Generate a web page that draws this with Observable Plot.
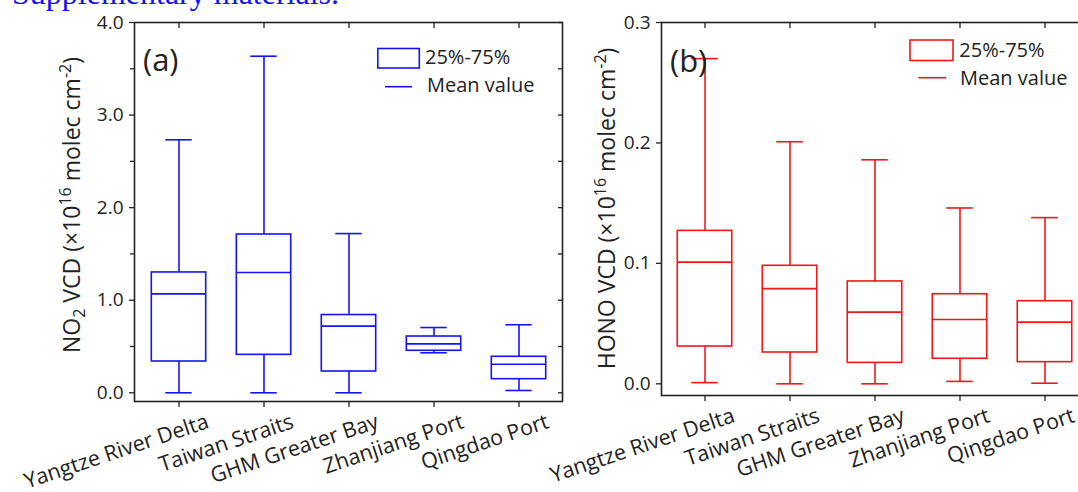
<!DOCTYPE html>
<html><head><meta charset="utf-8">
<script src="https://cdn.jsdelivr.net/npm/d3@7"></script>
<script src="https://cdn.jsdelivr.net/npm/@observablehq/plot@0.6"></script>
<style>
html,body{margin:0;padding:0;background:#fff;}
#wrap{position:relative;width:1078px;height:492px;overflow:hidden;background:#fff;font-family:"Open Sans",sans-serif;}
#wrap > svg{position:absolute;top:0;}
</style></head><body><div id="wrap"></div>
<script>
// ---- data ----
const regions = ["Yangtze River Delta", "Taiwan Straits", "GHM Greater Bay", "Zhanjiang Port", "Qingdao Port"];

// (a) NO2 VCD (x10^16 molec cm^-2)
const no2Min = [0.0, 0.0, 0.0, 0.432, 0.025];
const no2Q1  = [0.338, 0.41, 0.23, 0.454, 0.147];
const no2Mid = [1.069, 1.30, 0.72, 0.529, 0.309];
const no2Q3  = [1.30, 1.71, 0.84, 0.608, 0.389];
const no2Max = [2.733, 3.636, 1.72, 0.705, 0.735];
const no2Major = [0, 1, 2, 3, 4];
const no2Minor = [0.5, 1.5, 2.5, 3.5];

// (b) HONO VCD (x10^16 molec cm^-2)
const honoMin = [0.001, 0.0, 0.0, 0.002, 0.0005];
const honoQ1  = [0.031, 0.026, 0.0174, 0.0208, 0.018];
const honoMid = [0.101, 0.079, 0.0595, 0.0534, 0.0512];
const honoQ3  = [0.127, 0.098, 0.085, 0.0744, 0.0686];
const honoMax = [0.270, 0.201, 0.186, 0.146, 0.138];
const honoMajor = [0, 0.1, 0.2, 0.3];
const honoMinor = [];

const ink = "#222";

function panel(o) {
  const rows = regions.map((c, i) => ({c, mn: o.mn[i], q1: o.q1[i], md: o.md[i], q3: o.q3[i], mx: o.mx[i]}));
  const bw = (o.width - o.mL - o.mR) / regions.length;
  const boxInset = (bw - 55) / 2, capInset = (bw - 27) / 2;
  const sw = 1.6;
  return Plot.plot({
    width: o.width, height: 492,
    marginLeft: o.mL, marginRight: o.mR, marginTop: o.mT, marginBottom: o.mB,
    x: {type: "band", domain: regions, padding: 0},
    y: {domain: o.domain},
    style: {background: "transparent", overflow: "visible", fontFamily: "'Open Sans', sans-serif", color: ink},
    marks: [
      Plot.axisY({anchor: "left", ticks: o.major, tickFormat: d => d.toFixed(1), tickSize: 5, tickPadding: 6, fontSize: 19, label: null, strokeWidth: 1.3}),
      o.minor.length ? Plot.axisY({anchor: "left", ticks: o.minor, tickSize: 4, tickFormat: () => "", label: null, strokeWidth: 1.3}) : null,
      Plot.axisY({anchor: "right", ticks: o.major.concat(o.minor), tickSize: -5, tickFormat: () => "", label: null, strokeWidth: 1.3}),
      Plot.axisX({anchor: "top", tickSize: -5, tickFormat: () => "", label: null, strokeWidth: 1.3}),
      Plot.axisX({anchor: "bottom", tickSize: 6, tickFormat: () => "", label: null, strokeWidth: 1.3}),
      Plot.axisX({anchor: "bottom", tickSize: 0, tickPadding: 0, tickRotate: -18.5, textAnchor: "end", lineAnchor: "bottom", fontSize: 21.5, dx: 31, dy: 26, label: null}),
      Plot.frame({stroke: ink, strokeWidth: 1.6}),
      Plot.ruleX(rows, {x: "c", y1: "mn", y2: "q1", stroke: o.color, strokeWidth: sw}),
      Plot.ruleX(rows, {x: "c", y1: "q3", y2: "mx", stroke: o.color, strokeWidth: sw}),
      Plot.tickY(rows, {x: "c", y: "mn", stroke: o.color, strokeWidth: sw, insetLeft: capInset, insetRight: capInset}),
      Plot.tickY(rows, {x: "c", y: "mx", stroke: o.color, strokeWidth: sw, insetLeft: capInset, insetRight: capInset}),
      Plot.barY(rows, {x: "c", y1: "q1", y2: "q3", fill: "none", stroke: o.color, strokeWidth: sw, insetLeft: boxInset, insetRight: boxInset}),
      Plot.tickY(rows, {x: "c", y: "md", stroke: o.color, strokeWidth: sw, insetLeft: boxInset, insetRight: boxInset})
    ]
  });
}

const wrap = document.getElementById("wrap");

const a = panel({mn: no2Min, q1: no2Q1, md: no2Mid, q3: no2Q3, mx: no2Max, color: "#1414f5",
  domain: [-0.094, 4.0], major: no2Major, minor: no2Minor,
  width: 570, mL: 134, mR: 8, mT: 22, mB: 91});
a.style.left = "0px";
wrap.appendChild(a);

const b = panel({mn: honoMin, q1: honoQ1, md: honoMid, q3: honoQ3, mx: honoMax, color: "#f01818",
  domain: [-0.0097, 0.3], major: honoMajor, minor: honoMinor,
  width: 570, mL: 131, mR: 11.5, mT: 22, mB: 97});
b.style.left = "530px";
wrap.appendChild(b);

// ---- annotations (legends, panel letters, axis titles, header) ----
const ns = "http://www.w3.org/2000/svg";
const ov = document.createElementNS(ns, "svg");
ov.setAttribute("width", 1078); ov.setAttribute("height", 492);
ov.style.left = "0px"; ov.style.pointerEvents = "none";
ov.innerHTML = `
<text x="12" y="3.5" font-family="'Liberation Serif','Times New Roman',serif" font-size="32" fill="#1010ff">Supplementary materials.</text>
<g font-family="'Open Sans',sans-serif" fill="${ink}">
  <text x="143" y="71" font-size="31">(a)</text>
  <text x="670" y="72" font-size="31">(b)</text>
  <rect x="377.8" y="48.5" width="41.5" height="19.5" fill="none" stroke="#1414f5" stroke-width="1.6"/>
  <line x1="385" x2="412" y1="86.7" y2="86.7" stroke="#1414f5" stroke-width="1.6"/>
  <text x="425" y="64.3" font-size="20">25%-75%</text>
  <text x="427" y="92.3" font-size="20">Mean value</text>
  <rect x="910" y="40" width="43" height="20.5" fill="none" stroke="#f01818" stroke-width="1.6"/>
  <line x1="918.3" x2="946" y1="77.7" y2="77.7" stroke="#f01818" stroke-width="1.6"/>
  <text x="959.3" y="57.3" font-size="20">25%-75%</text>
  <text x="960" y="85" font-size="20">Mean value</text>
  <text transform="translate(80,205) rotate(-90)" text-anchor="middle" font-size="23">NO<tspan dy="5" font-size="16">2</tspan><tspan dy="-5"> VCD (×10</tspan><tspan dy="-9" font-size="16">16</tspan><tspan dy="9"> molec cm</tspan><tspan dy="-9" font-size="16">-2</tspan><tspan dy="9">)</tspan></text>
  <text transform="translate(615,208.5) rotate(-90)" text-anchor="middle" font-size="23">HONO VCD (×10<tspan dy="-9" font-size="16">16</tspan><tspan dy="9"> molec cm</tspan><tspan dy="-9" font-size="16">-2</tspan><tspan dy="9">)</tspan></text>
</g>`;
wrap.appendChild(ov);
</script>
</body></html>
